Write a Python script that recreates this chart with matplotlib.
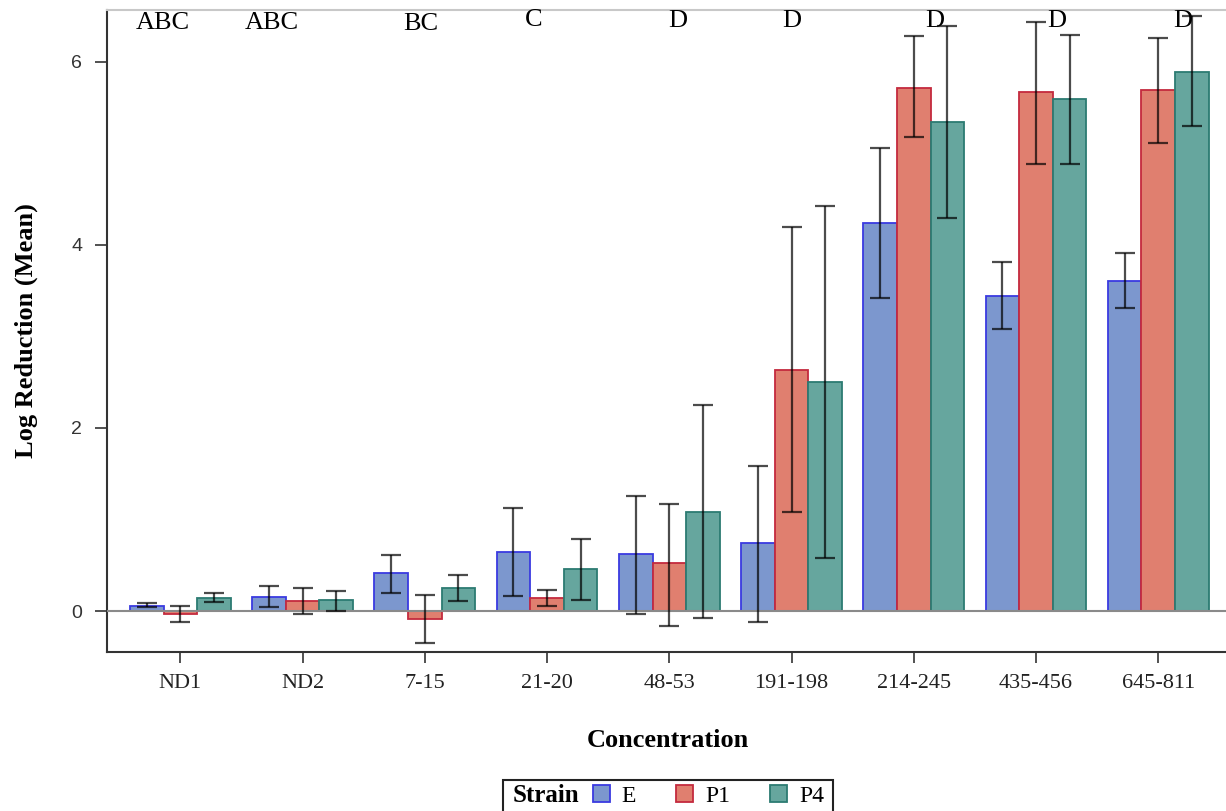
import numpy as np
import matplotlib
matplotlib.use("Agg")
import matplotlib.pyplot as plt
from matplotlib.patches import Patch, Rectangle

# data
concentrations = ["ND1", "ND2", "7-15", "21-20", "48-53", "191-198", "214-245", "435-456", "645-811"]
strains = ["E", "P1", "P4"]

e_mean = [0.06, 0.157, 0.41, 0.65, 0.62, 0.74, 4.24, 3.44, 3.61]
e_low = [0.04, 0.04, 0.20, 0.16, -0.03, -0.12, 3.42, 3.08, 3.31]
e_high = [0.09, 0.27, 0.61, 1.13, 1.26, 1.59, 5.06, 3.81, 3.91]

p1_mean = [-0.03, 0.11, -0.09, 0.145, 0.52, 2.63, 5.72, 5.67, 5.69]
p1_low = [-0.12, -0.03, -0.35, 0.055, -0.16, 1.08, 5.18, 4.89, 5.11]
p1_high = [0.05, 0.25, 0.17, 0.23, 1.17, 4.20, 6.28, 6.44, 6.26]

p4_mean = [0.145, 0.117, 0.25, 0.455, 1.085, 2.50, 5.34, 5.60, 5.89]
p4_low = [0.095, 0.003, 0.11, 0.12, -0.08, 0.58, 4.29, 4.88, 5.30]
p4_high = [0.20, 0.22, 0.39, 0.79, 2.25, 4.43, 6.39, 6.30, 6.50]

# grouping letters above each concentration
letters = ["ABC", "ABC", "BC", "C", "D", "D", "D", "D", "D"]
letter_shift = [-0.14, -0.25, -0.03, -0.11, 0.07, 0.0, 0.17, 0.17, 0.2]
letter_y = [6.43, 6.43, 6.42, 6.46, 6.45, 6.45, 6.45, 6.45, 6.45]

fills = ["#7C97CE", "#E07F6F", "#66A69E"]
edges = ["#3A3AE0", "#C42A3E", "#2C7B72"]

serif = ["Liberation Serif", "DejaVu Serif"]

fig = plt.figure(figsize=(12.26, 8.11), dpi=100)
ax = fig.add_axes([107 / 1226, 1 - 652 / 811, 1 - 107 / 1226 + 0.002, (652 - 10) / 811])

x = np.arange(len(concentrations))
w = 0.275
series = [(e_mean, e_low, e_high), (p1_mean, p1_low, p1_high), (p4_mean, p4_low, p4_high)]
for i, (m, lo, hi) in enumerate(series):
    m = np.array(m)
    lo = np.array(lo)
    hi = np.array(hi)
    xi = x + (i - 1) * w
    ax.bar(xi, m, width=w, color=fills[i], edgecolor=edges[i], linewidth=1.3, zorder=2)
    ax.errorbar(xi, m, yerr=[m - lo, hi - m], fmt="none", ecolor="black", elinewidth=1.6,
                capsize=7, capthick=1.6, alpha=0.7, zorder=4)

ax.axhline(0, color="#8a8a8a", lw=1.5, zorder=3)

for i, t in enumerate(letters):
    ax.text(x[i] + letter_shift[i], letter_y[i], t, ha="center", va="center",
            fontsize=19, family=serif, zorder=6)

ax.set_xlim(-0.6, 8.574)
ax.set_ylim(-0.448, 6.568)
ax.set_xticks(x)
ax.set_xticklabels(concentrations, family=serif, fontsize=16, color="#222222")
ax.set_yticks([0, 2, 4, 6])
ax.set_yticklabels(["0", "2", "4", "6"], family=["Liberation Sans", "DejaVu Sans"], fontsize=14, color="#333333")
ax.tick_params(axis="y", length=9, width=1.2, color="#333333", pad=9)
ax.tick_params(axis="x", length=8, width=1.2, color="#333333", pad=8)

ax.spines["right"].set_visible(False)
ax.spines["top"].set_color("#c8c8c8")
ax.spines["top"].set_linewidth(1.5)
for s in ["left", "bottom"]:
    ax.spines[s].set_color("#333333")
    ax.spines[s].set_linewidth(1.5)

ax.set_ylabel("Log Reduction (Mean)", family=serif, fontsize=19, fontweight="bold", labelpad=24)
ax.set_xlabel("Concentration", family=serif, fontsize=19, fontweight="bold", labelpad=26)

# legend: frame box, "Strain" title on the left, then the three swatches
fig.add_artist(Rectangle((503 / 1226, -0.02), 330 / 1226, 0.02 + (811 - 780) / 811,
                         transform=fig.transFigure, facecolor="white", edgecolor="#222222",
                         linewidth=1.5, zorder=1))
fig.text(513 / 1226, 1 - 796 / 811, "Strain", family=serif, fontsize=18, fontweight="bold",
         ha="left", va="center", zorder=3)
handles = [Patch(facecolor=fills[i], edgecolor=edges[i], linewidth=1.3) for i in range(3)]
leg = fig.legend(handles, strains, loc="center left", bbox_to_anchor=(593 / 1226, 1 - 796 / 811),
                 ncol=3, frameon=False, prop={"family": serif, "size": 17},
                 handlelength=0.72, handleheight=0.72, handletextpad=0.5, columnspacing=1.7,
                 borderpad=0, borderaxespad=0)
leg.set_zorder(3)

fig.savefig("out.png", dpi=100)
